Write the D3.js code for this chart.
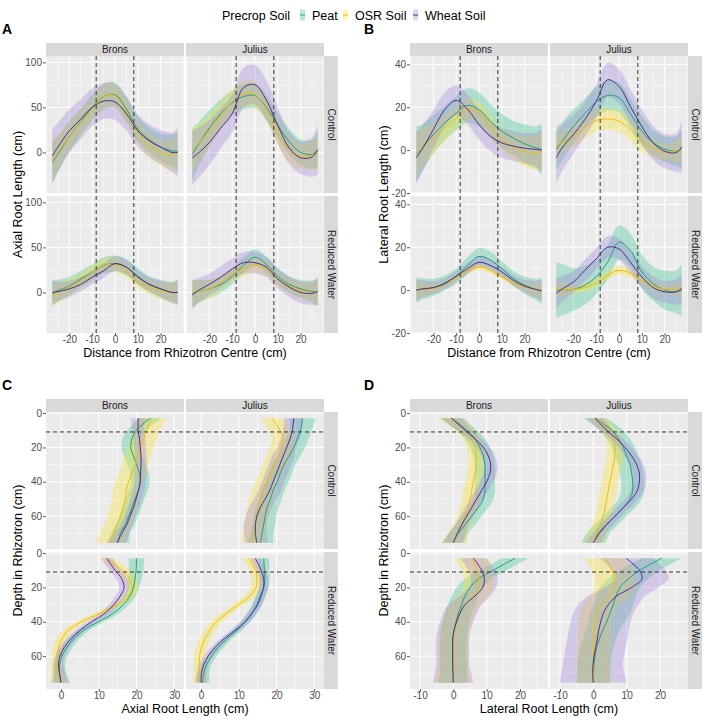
<!DOCTYPE html>
<html><head><meta charset="utf-8">
<script src="https://cdn.jsdelivr.net/npm/d3@7"></script>
<style>
body{margin:0;background:#fff}
text{font-family:"Liberation Sans",Arial,Helvetica,sans-serif}
</style>
</head><body>
<svg id="c" width="708" height="722"></svg>
<script>
// ---------- categories ----------
const soils = ["Peat", "OSR Soil", "Wheat Soil"];
const cultivars = ["Brons", "Julius"];
const treatments = ["Control", "Reduced Water"];

// ---------- sample positions ----------
const distance = [-27.5, -25, -20, -15, -10, -5, 0, 5, 10, 15, 20, 25, 27.5];
const depth = [3, 10, 15, 20, 25, 30, 35, 40, 45, 50, 55, 60, 65, 70, 75.5];

// ---------- tick labels ----------
const distTicks = [-20, -10, 0, 10, 20];
const axialYTicks = [0, 50, 100];
const lateralYTicks = [-20, 0, 20, 40];
const depthTicks = [0, 20, 40, 60];
const axialXTicks = [0, 10, 20, 30];
const lateralXTicks = [-10, 0, 10, 20];
const centreLines = [-8.25, 8.25];
const depthLine = [11];

// ---------- A: axial root length vs distance (mean, half-width), order Peat, OSR, Wheat ----------
const A_BC_mean = [
  [-11, -2, 18, 34, 50, 62, 64, 48, 26, 14, 6, 2, 1],
  [-8, 0, 18, 33, 48, 62, 63, 45, 22, 8, 0, -3, 1],
  [-4, 6, 24, 37, 50, 57, 56, 43, 24, 13, 6, 0, 0]];
const A_BC_hw = [
  [24, 20, 17, 15, 14, 14, 14, 14, 14, 14, 15, 18, 22],
  [22, 19, 16, 14, 13, 13, 13, 13, 13, 13, 14, 17, 21],
  [30, 27, 24, 22, 21, 20, 20, 19, 18, 18, 19, 22, 27]];
const A_JC_mean = [
  [-2, 8, 27, 43, 55, 62, 63, 50, 30, 12, 0, -2, 3],
  [3, 9, 24, 41, 56, 65, 64, 48, 22, 3, -4, -3, 1],
  [-6, -1, 11, 27, 43, 72, 75, 58, 30, 5, -6, -5, 3]];
const A_JC_hw = [
  [28, 25, 20, 16, 14, 14, 14, 14, 14, 14, 14, 16, 20],
  [25, 22, 18, 15, 14, 14, 14, 14, 14, 14, 14, 16, 22],
  [30, 28, 25, 22, 21, 22, 22, 22, 20, 18, 18, 22, 28]];
const A_BR_mean = [
  [-1, 2, 7, 15, 22, 30, 32, 28, 18, 9, 4, 0, 0],
  [-4, 0, 6, 13, 22, 30, 31, 24, 13, 6, 2, 0, 0],
  [0, 1, 4, 9, 17, 24, 32, 28, 17, 9, 4, 0, 0]];
const A_BR_hw = [
  [14, 12, 10, 9, 9, 9, 9, 9, 9, 9, 10, 12, 14],
  [13, 11, 9, 8, 8, 8, 8, 8, 8, 8, 9, 11, 13],
  [13, 11, 9, 8, 8, 8, 8, 8, 8, 8, 9, 11, 13]];
const A_JR_mean = [
  [-1, 1, 4, 9, 18, 30, 39, 31, 18, 9, 4, 1, 0],
  [0, 1, 4, 11, 20, 26, 30, 26, 15, 7, 2, 0, 0],
  [-3, 2, 9, 17, 26, 33, 33, 28, 15, 6, 0, -1, 1]];
const A_JR_hw = [
  [15, 13, 10, 9, 9, 9, 9, 9, 9, 9, 10, 12, 15],
  [14, 12, 10, 8, 8, 8, 8, 8, 8, 8, 9, 11, 14],
  [16, 14, 12, 12, 12, 12, 12, 11, 11, 11, 12, 13, 16]];

// ---------- B: lateral root length vs distance ----------
const B_BC_mean = [
  [-2, 1, 7.3, 12.7, 17.3, 20.9, 18.9, 13.5, 8.8, 5.7, 2.9, 1.1, 0.3],
  [-1.5, 1, 5.7, 10.4, 15, 19.2, 17.3, 11, 5, 1.5, -0.6, -1.2, -0.5],
  [-3.6, 0.3, 9.6, 18.9, 23.2, 19, 12, 6.5, 3.4, 1.9, 0.9, 0.3, 0]];
const B_BC_hw = [
  [13, 11, 9, 8, 8, 8, 8, 8, 8, 8, 9, 10, 12],
  [10, 9, 7, 6, 5, 5, 5, 5, 5, 6, 7, 8, 9],
  [12, 11, 9, 8, 7, 7, 7, 7, 7, 7, 7, 8, 10]];
const B_JC_mean = [
  [0.3, 4, 11, 17, 22.5, 25.5, 24.5, 17, 8.8, 3.4, 0.5, -0.5, 0.3],
  [1.9, 3.5, 6.5, 10.4, 13.8, 14.5, 13.5, 9.5, 4.2, 1, -1, -0.5, 0.3],
  [-3.6, 1, 7.3, 14.2, 22.7, 32.8, 29.7, 20.4, 11, 3.4, -0.5, -1.2, 1.5]];
const B_JC_hw = [
  [10, 9, 8, 7, 7, 7, 7, 7, 7, 6, 6, 7, 9],
  [6, 5, 5, 5, 5, 5, 5, 5, 5, 4, 4, 5, 6],
  [12, 11, 9, 8, 8, 8, 8, 8, 8, 8, 8, 9, 12]];
const B_BR_mean = [
  [0, 0.5, 1.2, 3.4, 6.5, 11.5, 15.7, 14, 10, 5.4, 2.3, 0.3, -0.3],
  [0, 0.3, 0.8, 2.8, 5.8, 9, 10.8, 9.2, 6.2, 3.4, 1.5, 0.3, 0],
  [0, 0.5, 1.2, 3, 6.5, 10, 13, 11.5, 8.5, 4.6, 1.8, 0.3, -0.3]];
const B_BR_hw = [
  [6, 5, 4, 3.5, 3.5, 4, 4, 4, 3.5, 3.5, 4, 5, 6],
  [4, 3.5, 2, 1.5, 1.5, 1.5, 1.5, 1.5, 1.5, 1.5, 2, 3, 4],
  [5, 4, 3, 2.5, 2.5, 2.5, 2.5, 2.5, 2.5, 2.5, 3, 4, 5]];
const B_JR_mean = [
  [0, 0.2, 0.3, 2.3, 6.2, 13, 22.3, 18.5, 8.5, 3, 0, -0.8, 0],
  [0.3, 0.3, 0.3, 1.2, 3.4, 7, 9.2, 8, 4.6, 1.8, 0.3, 0.3, 0.3],
  [-1.5, 0.5, 3.8, 9.2, 14.6, 20, 19.2, 13, 6.2, 1.2, -0.8, -0.8, 0.8]];
const B_JR_hw = [
  [13, 12, 10, 9, 8, 8, 8, 8, 8, 8, 9, 10, 12],
  [3, 3, 2, 2, 2, 2, 2, 2, 2, 2, 2, 3, 3],
  [7, 6, 5, 5, 5, 5, 5, 5, 5, 5, 5, 6, 7]];

// ---------- C: axial root length vs depth ----------
const C_BC_mean = [
  [23.6, 20, 18.8, 18.5, 19.2, 20, 20.8, 21, 20.5, 19.6, 18.8, 17.9, 17, 15.7, 15.2],
  [24, 22.7, 21.9, 21, 20.3, 19.6, 18.8, 17.9, 17.3, 17, 16.5, 15.8, 15, 13.9, 13],
  [20.5, 20.4, 20.8, 21, 21.2, 21.2, 21.1, 21, 20.5, 19.9, 19.2, 18.3, 17.4, 16.1, 14.8]];
const C_BC_hw = [
  [3, 2.5, 2.5, 2.5, 2.5, 2.5, 2.5, 2.5, 2.5, 2.5, 2.5, 2.5, 2.5, 2.5, 3],
  [4, 3.5, 3.5, 3.5, 3.5, 3.5, 3.5, 3.5, 3.5, 3.5, 3.5, 3.5, 3.5, 3.5, 4],
  [2, 1.5, 1.5, 1.5, 1.5, 1.5, 1.5, 1.5, 1.5, 1.5, 1.5, 1.5, 1.5, 2, 2.5]];
const C_JC_mean = [
  [26.9, 26.4, 25.5, 24.6, 23.3, 22, 21, 20.2, 19.1, 18.4, 17.5, 17, 16.6, 16.2, 15.7],
  [18.8, 20.9, 21.8, 21.3, 20.4, 19.5, 18.4, 17.5, 16.6, 15.7, 15.3, 14.8, 14.4, 13.9, 13.8],
  [24.6, 24.2, 23.6, 22.7, 21.8, 20.9, 20, 19.1, 18.2, 17, 15.7, 14.8, 14.4, 14.4, 14.8]];
const C_JC_hw = [
  [3.5, 3, 3, 3, 3, 3, 3, 3, 3, 3, 3, 3, 3, 3, 3.5],
  [3, 3, 3, 3, 3, 3, 3, 3, 3, 3, 3, 3, 3, 3, 3],
  [2.5, 2.5, 2.5, 2.5, 3, 3, 3, 3, 3, 3, 3, 3, 3, 3, 3]];
const C_BR_mean = [
  [20, 19.9, 19.6, 19.2, 18.3, 16.5, 13.9, 9.9, 5.9, 3.3, 1.5, 0.2, -0.4, -0.4, -0.1],
  [12.1, 16.1, 18.1, 18.8, 17.9, 14.8, 10.4, 5.5, 1.9, 0.2, -0.7, -1, -1.2, -1, -0.4],
  [12.1, 14.3, 16.1, 16.7, 15.7, 14, 11.7, 8.1, 5, 2.6, 0.8, -0.3, -0.7, -0.4, 0]];
const C_BR_hw = [
  [2, 2, 1.8, 1.5, 1.5, 1.5, 1.5, 1.5, 1.5, 1.5, 1.5, 1.5, 1.5, 1.8, 2.5],
  [2, 2, 1.8, 1.5, 1.5, 1.5, 1.5, 1.5, 1.5, 1.5, 1.5, 1.5, 1.5, 1.8, 2],
  [1.5, 1.5, 1.5, 1.3, 1.3, 1.3, 1.3, 1.3, 1.3, 1.3, 1.3, 1.3, 1.3, 1.5, 2]];
const C_JR_mean = [
  [16.6, 16.8, 16.9, 16.6, 15.7, 14.8, 13.5, 11.7, 9.5, 6.8, 4.6, 2.8, 1.4, 0.7, 0.4],
  [12.6, 14.4, 14.8, 14.6, 13, 9.9, 6.8, 4.1, 2.3, 1, 0.1, -0.4, -0.5, -0.5, -0.4],
  [14.4, 15.9, 16.6, 16.6, 15.9, 15, 13.5, 11.7, 9, 6.1, 3.7, 1.9, 0.7, 0.1, 0]];
const C_JR_hw = [
  [1.5, 1.3, 1.3, 1.3, 1.3, 1.3, 1.3, 1.3, 1.3, 1.3, 1.3, 1.3, 1.3, 1.5, 1.8],
  [1.8, 1.5, 1.5, 1.5, 1.5, 1.5, 1.5, 1.5, 1.5, 1.5, 1.5, 1.5, 1.5, 1.5, 1.8],
  [1.3, 1.2, 1.2, 1.2, 1.2, 1.2, 1.2, 1.2, 1.2, 1.2, 1.2, 1.2, 1.2, 1.3, 1.5]];

// ---------- D: lateral root length vs depth ----------
const D_BC_mean = [
  [-0.5, 4, 6.5, 8, 9, 9.5, 9.5, 9.5, 9.5, 9, 7.5, 5.5, 3.5, 1.5, 0],
  [-1, 3.5, 5.5, 6.5, 6.8, 6.8, 6.5, 6, 5.5, 5, 4.5, 3.5, 2.5, 1.2, 0.2],
  [-0.5, 3.5, 6.5, 9, 10.5, 11.2, 11, 10, 8.5, 7, 5.5, 4, 2.5, 1.2, 0]];
const D_BC_hw = [
  [3.5, 3, 3, 3, 3, 3, 3, 3, 3, 3, 3, 3, 3, 3, 3.5],
  [3.5, 3, 2.5, 2.5, 2.5, 2.5, 2.5, 2.5, 2.5, 2.5, 2.5, 2.5, 2.5, 3, 3.5],
  [3, 2.5, 2, 2, 2, 2, 2, 2, 2, 2, 2, 2, 2, 2.5, 3]];
const D_JC_mean = [
  [0.5, 5.5, 7.5, 9, 10, 11, 11.5, 11.8, 11.8, 11, 9, 6.5, 3.8, 1.5, 0],
  [1, 4.5, 6, 6.5, 6.5, 6, 5.5, 5, 4.5, 4, 3.5, 3, 2, 1, 0.2],
  [0.5, 4, 7, 9.5, 11.5, 13, 13.8, 13.8, 13.2, 11.5, 9, 6.5, 4, 1.8, 0]];
const D_JC_hw = [
  [3.5, 3.5, 3.5, 3.5, 3.5, 3.5, 3.5, 3.5, 3.5, 3.5, 3.5, 3.5, 3.5, 3.5, 3.5],
  [3, 2.5, 2.5, 2.5, 2.5, 2.5, 2.5, 2.5, 2.5, 2.5, 2.5, 2.5, 2.5, 2.5, 3],
  [2.5, 2, 2, 2, 2, 2, 2, 2, 2, 2, 2, 2, 2, 2, 2.5]];
const D_BR_mean = [
  [18.5, 12, 7.5, 5, 3.5, 2.5, 1.5, 0.8, 0.2, 0, 0, 0, 0, 0, 0],
  [5.5, 7, 7.7, 7.5, 6, 3.5, 2, 1.2, 0.5, 0, 0, 0, 0, 0, 0],
  [6, 8.5, 9.3, 8.8, 6.5, 3.5, 2, 1, 0.2, -0.2, -0.2, -0.2, -0.2, -0.1, 0]];
const D_BR_hw = [
  [4, 4, 4, 4, 4, 4, 4, 4, 4, 4, 4, 4, 4, 4, 4.5],
  [5, 4.5, 4.5, 4.5, 4.5, 4.5, 4.5, 4.5, 4.5, 4.5, 4.5, 4.5, 4.5, 5, 5.5],
  [4, 4, 4, 4, 4.5, 5, 5, 5, 5, 5, 5, 5, 5, 5.5, 6]];
const D_JR_mean = [
  [20.5, 14, 10.5, 8, 6.8, 6, 5, 4, 2.8, 1.8, 1, 0.5, 0.2, 0.1, 0],
  [3.5, 5.5, 6.2, 6.3, 5, 2.5, 1, 0.5, 0.3, 0.2, 0.1, 0, 0, 0, 0],
  [9.8, 13.8, 14.6, 11.5, 7, 4.5, 3, 2.2, 1.6, 1.2, 0.7, 0.2, -0.1, -0.2, 0]];
const D_JR_hw = [
  [6, 6, 6, 6, 6, 6, 6, 5.5, 5, 5, 5, 5, 5, 5, 5],
  [6, 6, 6, 6, 6, 5.5, 5, 5, 5, 5, 5, 5, 5, 5, 5.5],
  [8, 8, 8, 8, 8.5, 9, 9, 9, 9, 9, 9, 9, 9, 9.5, 10]];

// ---------- styles ----------
const lineColor = ["#1F9D82", "#F2BC00", "#4C2A92"];
const fillColor = ["#35C28D", "#FDE42A", "#A184DA"];

const svg = d3.select("#c");
let clipId = 0;

function drawFacet(cfg) {
  const PW = 138, GAP = 2, RH = 137, RGAP = 3, STRIP = 13;
  const cols = cultivars.map((c, i) => ({name: c, x0: cfg.left + i * (PW + GAP), x1: cfg.left + i * (PW + GAP) + PW}));
  const rows = treatments.map((t, i) => ({name: t, y0: cfg.top + STRIP + i * (RH + RGAP), y1: cfg.top + STRIP + i * (RH + RGAP) + RH}));
  const g = svg.append("g");

  // panel label
  g.append("text").attr("x", cfg.labelX).attr("y", cfg.top - 9).text(cfg.label)
    .attr("font-size", 14).attr("font-weight", "bold").attr("fill", "#000");

  // top strips
  cols.forEach(c => {
    g.append("rect").attr("x", c.x0).attr("y", cfg.top).attr("width", PW).attr("height", STRIP).attr("fill", "#D9D9D9");
    g.append("text").attr("x", (c.x0 + c.x1) / 2).attr("y", cfg.top + STRIP / 2).attr("dy", "0.35em")
      .attr("text-anchor", "middle").attr("font-size", 10).attr("fill", "#1A1A1A").text(c.name);
  });
  // right strips
  const sx = cols[1].x1;
  rows.forEach(r => {
    g.append("rect").attr("x", sx).attr("y", r.y0).attr("width", 14).attr("height", RH).attr("fill", "#D9D9D9");
    g.append("text").attr("transform", `translate(${sx + 7},${(r.y0 + r.y1) / 2}) rotate(90)`).attr("dy", "0.35em")
      .attr("text-anchor", "middle").attr("font-size", 10).attr("fill", "#1A1A1A").text(r.name);
  });

  const keys = [["BC", 0, 0], ["JC", 1, 0], ["BR", 0, 1], ["JR", 1, 1]];
  keys.forEach(([key, ci, ri]) => {
    const c = cols[ci], r = rows[ri];
    const x = d3.scaleLinear().domain(cfg.xDomain).range([c.x0, c.x1]);
    const y = d3.scaleLinear().domain(cfg.yDomain).range(cfg.orient === "h" ? [r.y1, r.y0] : [r.y0, r.y1]);
    const p = g.append("g");
    p.append("rect").attr("x", c.x0).attr("y", r.y0).attr("width", PW).attr("height", RH).attr("fill", "#EBEBEB");
    // minor grid
    cfg.xMinor.filter(v => v >= cfg.xDomain[0] && v <= cfg.xDomain[1]).forEach(v =>
      p.append("line").attr("x1", x(v)).attr("x2", x(v)).attr("y1", r.y0).attr("y2", r.y1).attr("stroke", "#fff").attr("stroke-width", 0.5));
    cfg.yMinor.filter(v => v >= Math.min(...cfg.yDomain) && v <= Math.max(...cfg.yDomain)).forEach(v =>
      p.append("line").attr("x1", c.x0).attr("x2", c.x1).attr("y1", y(v)).attr("y2", y(v)).attr("stroke", "#fff").attr("stroke-width", 0.5));
    // major grid
    cfg.xTicks.forEach(v =>
      p.append("line").attr("x1", x(v)).attr("x2", x(v)).attr("y1", r.y0).attr("y2", r.y1).attr("stroke", "#fff").attr("stroke-width", 1));
    cfg.yTicks.forEach(v =>
      p.append("line").attr("x1", c.x0).attr("x2", c.x1).attr("y1", y(v)).attr("y2", y(v)).attr("stroke", "#fff").attr("stroke-width", 1));

    const id = "clip" + (clipId++);
    svg.append("clipPath").attr("id", id).append("rect").attr("x", c.x0).attr("y", r.y0).attr("width", PW).attr("height", RH);
    const d = p.append("g").attr("clip-path", `url(#${id})`);
    const means = cfg.data[key][0], hws = cfg.data[key][1];
    const curve = d3.curveCatmullRom.alpha(0.5);
    const samples = cfg.samples;
    means.forEach((m, k) => {
      const pts = samples.map((s, i) => ({s, m: m[i], lo: m[i] - hws[k][i], hi: m[i] + hws[k][i]}));
      let area;
      if (cfg.orient === "h") area = d3.area().curve(curve).x(q => x(q.s)).y0(q => y(q.lo)).y1(q => y(q.hi));
      else area = d3.area().curve(curve).y(q => y(q.s)).x0(q => x(q.lo)).x1(q => x(q.hi));
      d.append("path").attr("d", area(pts)).attr("fill", fillColor[k]).attr("fill-opacity", 0.33);
    });
    means.forEach((m, k) => {
      const pts = samples.map((s, i) => ({s, m: m[i]}));
      let line;
      if (cfg.orient === "h") line = d3.line().curve(curve).x(q => x(q.s)).y(q => y(q.m));
      else line = d3.line().curve(curve).x(q => x(q.m)).y(q => y(q.s));
      d.append("path").attr("d", line(pts)).attr("fill", "none").attr("stroke", lineColor[k]).attr("stroke-width", 1);
    });
    // reference dashed lines
    cfg.refs.forEach(v => {
      if (cfg.orient === "h")
        d.append("line").attr("class", "ref").attr("x1", x(v)).attr("x2", x(v)).attr("y1", r.y0).attr("y2", r.y1);
      else
        d.append("line").attr("class", "ref").attr("x1", c.x0).attr("x2", c.x1).attr("y1", y(v)).attr("y2", y(v));
    });
    d.selectAll("line.ref").attr("stroke", "#333").attr("stroke-width", 1).attr("stroke-dasharray", "4,3");

    // axes
    if (ci === 0) {
      const ax = g.append("g").attr("transform", `translate(${c.x0},0)`)
        .call(d3.axisLeft(y).tickValues(cfg.yTicks).tickSize(3).tickPadding(1).tickFormat(d3.format("d")));
      styleAxis(ax);
    }
    if (ri === 1) {
      const ax = g.append("g").attr("transform", `translate(0,${r.y1})`)
        .call(d3.axisBottom(x).tickValues(cfg.xTicks).tickSize(3).tickPadding(0).tickFormat(d3.format("d")));
      styleAxis(ax);
    }
  });

  // axis titles
  g.append("text").attr("x", (cols[0].x0 + cols[1].x1) / 2).attr("y", rows[1].y1 + 23.5)
    .attr("text-anchor", "middle").attr("font-size", 12.5).attr("fill", "#000").text(cfg.xTitle);
  g.append("text").attr("transform", `translate(${cfg.yTitleX},${(rows[0].y0 + rows[1].y1) / 2}) rotate(-90)`)
    .attr("text-anchor", "middle").attr("font-size", 12.5).attr("fill", "#000").text(cfg.yTitle);
}

function styleAxis(ax) {
  ax.select(".domain").remove();
  ax.selectAll(".tick line").attr("stroke", "#333").attr("stroke-width", 0.8);
  ax.selectAll(".tick text").attr("fill", "#4D4D4D").attr("font-size", 10)
    .attr("font-family", "'Liberation Sans',Arial,Helvetica,sans-serif").text(d => d < 0 ? "-" + Math.abs(d) : d);
}

const minorDist = [-30, -25, -15, -5, 5, 15, 25, 30];

drawFacet({
  label: "A", labelX: 2, left: 46, top: 43, orient: "h",
  xDomain: [-30.25, 30.25], yDomain: [-45, 107],
  xTicks: distTicks, yTicks: axialYTicks, xMinor: minorDist, yMinor: [-25, 25, 75],
  samples: distance, refs: centreLines,
  xTitle: "Distance from Rhizotron Centre (cm)", yTitle: "Axial Root Length (cm)", yTitleX: 22,
  data: {BC: [A_BC_mean, A_BC_hw], JC: [A_JC_mean, A_JC_hw], BR: [A_BR_mean, A_BR_hw], JR: [A_JR_mean, A_JR_hw]}
});
drawFacet({
  label: "B", labelX: 364, left: 410, top: 43, orient: "h",
  xDomain: [-30.25, 30.25], yDomain: [-20, 43.9],
  xTicks: distTicks, yTicks: lateralYTicks, xMinor: minorDist, yMinor: [-10, 10, 30],
  samples: distance, refs: centreLines,
  xTitle: "Distance from Rhizotron Centre (cm)", yTitle: "Lateral Root Length (cm)", yTitleX: 388,
  data: {BC: [B_BC_mean, B_BC_hw], JC: [B_JC_mean, B_JC_hw], BR: [B_BR_mean, B_BR_hw], JR: [B_JR_mean, B_JR_hw]}
});
drawFacet({
  label: "C", labelX: 2, left: 46, top: 399, orient: "v",
  xDomain: [-4, 32.6], yDomain: [-0.6, 79.1],
  xTicks: axialXTicks, yTicks: depthTicks, xMinor: [-5, 5, 15, 25], yMinor: [10, 30, 50, 70],
  samples: depth, refs: depthLine,
  xTitle: "Axial Root Length (cm)", yTitle: "Depth in Rhizotron (cm)", yTitleX: 22,
  data: {BC: [C_BC_mean, C_BC_hw], JC: [C_JC_mean, C_JC_hw], BR: [C_BR_mean, C_BR_hw], JR: [C_JR_mean, C_JR_hw]}
});
drawFacet({
  label: "D", labelX: 364, left: 410, top: 399, orient: "v",
  xDomain: [-13, 28.4], yDomain: [-0.6, 79.1],
  xTicks: lateralXTicks, yTicks: depthTicks, xMinor: [-5, 5, 15, 25], yMinor: [10, 30, 50, 70],
  samples: depth, refs: depthLine,
  xTitle: "Lateral Root Length (cm)", yTitle: "Depth in Rhizotron (cm)", yTitleX: 388,
  data: {BC: [D_BC_mean, D_BC_hw], JC: [D_JC_mean, D_JC_hw], BR: [D_BR_mean, D_BR_hw], JR: [D_JR_mean, D_JR_hw]}
});

// ---------- legend ----------
const leg = svg.append("g");
leg.append("text").attr("x", 222).attr("y", 19.5).attr("font-size", 12.5).attr("fill", "#000").text("Precrop Soil");
const keyX = [300, 343, 413];
soils.forEach((s, k) => {
  leg.append("rect").attr("x", keyX[k]).attr("y", 9.5).attr("width", 5).attr("height", 11)
    .attr("fill", fillColor[k]).attr("fill-opacity", 0.35);
  leg.append("line").attr("x1", keyX[k]).attr("x2", keyX[k] + 5).attr("y1", 15).attr("y2", 15)
    .attr("stroke", lineColor[k]).attr("stroke-width", 1);
  leg.append("text").attr("x", keyX[k] + 12).attr("y", 19.5).attr("font-size", 12.5).attr("fill", "#000").text(s);
});
</script>
</body></html>
